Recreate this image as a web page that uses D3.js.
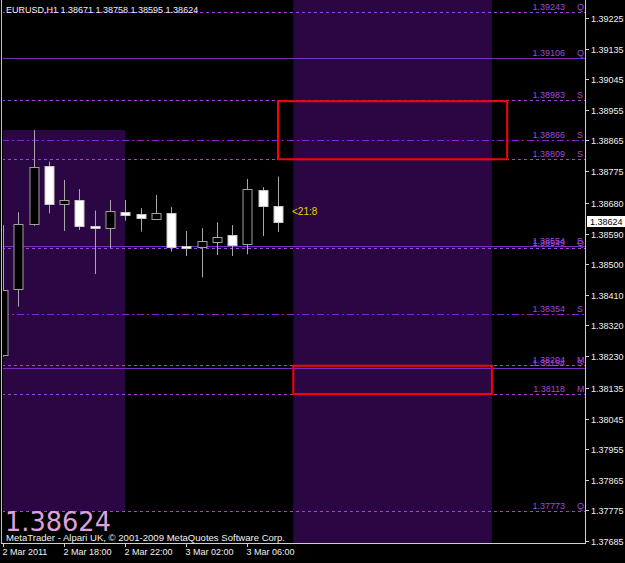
<!DOCTYPE html>
<html><head><meta charset="utf-8">
<script src="https://cdn.jsdelivr.net/npm/d3@7"></script>
<style>html,body{margin:0;padding:0;background:#000;}svg{display:block;}</style>
</head><body>
<script>
// ---- data ----
const symbolTitle = "EURUSD,H1";
const lastOHLC = [1.38671, 1.38758, 1.38595, 1.38624];
const barIndex = [0,1,2,3,4,5,6,7,8,9,10,11,12,13,14,15,16,17,18];
const opens  = [1.38233,1.38426,1.38618,1.38790,1.38678,1.38688,1.38612,1.38606,1.38655,1.38647,1.38634,1.38650,1.38554,1.38550,1.38566,1.38586,1.38559,1.38719,1.38671];
const highs  = [1.38615,1.38653,1.38895,1.38802,1.38748,1.38721,1.38658,1.38689,1.38689,1.38665,1.38704,1.38668,1.38598,1.38606,1.38623,1.38615,1.38751,1.38727,1.38758];
const lows   = [1.38228,1.38375,1.38613,1.38650,1.38598,1.38601,1.38471,1.38547,1.38628,1.38596,1.38634,1.38537,1.38524,1.38461,1.38527,1.38524,1.38529,1.38583,1.38595];
const closes = [1.38424,1.38618,1.38787,1.38678,1.38688,1.38613,1.38606,1.38658,1.38645,1.38637,1.38650,1.38552,1.38549,1.38569,1.38581,1.38557,1.38721,1.38671,1.38624];

const timeTickIdx = [0,4,8,12,16];
const timeTickLabels = ["2 Mar 2011","2 Mar 18:00","2 Mar 22:00","3 Mar 02:00","3 Mar 06:00"];
const priceTicks = [1.39225,1.39135,1.39045,1.38955,1.38865,1.38775,1.38680,1.38590,1.38500,1.38410,1.38320,1.38230,1.38135,1.38045,1.37955,1.37865,1.37775,1.37685];

const levelValues = [1.39243,1.39106,1.38983,1.38866,1.38809,1.38554,1.38549,1.38354,1.38204,1.38194,1.38118,1.37773];
const levelTags   = ["Q","Q","S","S","S","S","Q","S","M","S","M","Q"];
const levelKinds  = ["dash","solid","dash","dashdot","dash","solid","dash","dashdot","dash","solid","dash","dash"];

// zones: [startIdx, endIdx, hiPrice, loPrice] (null = full height)
const zoneStart = [-1, 19];
const zoneEnd   = [8, 32];
const zoneHi    = [1.38895, null];
const zoneLo    = [1.37773, null];
const boxStart = [18, 19];
const boxEnd   = [33, 32];
const boxHi    = [1.38983, 1.38204];
const boxLo    = [1.38809, 1.38118];

const timerText = "<21:8";
const footerText = "MetaTrader - Alpari UK, \u00a9 2001-2009 MetaQuotes Software Corp.";

// ---- drawing ----
const W = 625, H = 563;
const plotL = 2, plotR = 585, plotT = 0, plotB = 543;
const y = d3.scaleLinear().domain([1.37685, 1.39225]).range([541, 18]);
const x = d3.scaleLinear().domain([0, 18]).range([3, 278]);

const svg = d3.select("body").append("svg").attr("width", W).attr("height", H)
  .style("font-family", "'Liberation Sans', Arial, sans-serif");
svg.append("rect").attr("width", W).attr("height", H).attr("fill", "#000");

svg.append("defs").append("clipPath").attr("id", "plot")
  .append("rect").attr("x", plotL + 1).attr("y", plotT).attr("width", plotR - plotL - 1).attr("height", plotB - plotT);
const g = svg.append("g").attr("clip-path", "url(#plot)");

// zones
zoneStart.forEach((s, i) => {
  const x0 = x(s), x1 = x(zoneEnd[i]);
  const y0 = zoneHi[i] == null ? plotT : y(zoneHi[i]);
  const y1 = zoneLo[i] == null ? plotB : y(zoneLo[i]);
  g.append("rect").attr("x", x0).attr("y", y0).attr("width", x1 - x0).attr("height", y1 - y0)
    .attr("fill", "#2a0743");
});

// levels
const dashFor = {dash: "3,3", solid: null, dashdot: "7,3,2,3"};
const colFor = {dash: "#a043d6", solid: "#7d2dbd", dashdot: "#8a22cc"};
levelValues.forEach((v, i) => {
  const yy = Math.round(y(v)) + 0.5;
  g.append("line").attr("x1", plotL).attr("x2", plotR).attr("y1", yy).attr("y2", yy)
    .attr("stroke", colFor[levelKinds[i]]).attr("stroke-width", 1)
    .attr("stroke-dasharray", dashFor[levelKinds[i]]);
  g.append("text").attr("x", 565).attr("y", yy - 3).attr("text-anchor", "end")
    .attr("font-size", 9).attr("fill", "#a347d8").text(v.toFixed(5));
  g.append("text").attr("x", 577).attr("y", yy - 3)
    .attr("font-size", 9).attr("fill", "#a347d8").text(levelTags[i]);
});

// candles
const bodyW = 9;
barIndex.forEach(i => {
  const cx = Math.round(x(i)) + 0.5;
  const bull = closes[i] >= opens[i];
  g.append("line").attr("x1", cx).attr("x2", cx)
    .attr("y1", y(highs[i])).attr("y2", y(lows[i]))
    .attr("stroke", "#a8a8a8").attr("stroke-width", 1);
  const top = Math.round(y(Math.max(opens[i], closes[i]))) + 0.5;
  const bot = Math.round(y(Math.min(opens[i], closes[i]))) + 0.5;
  g.append("rect").attr("x", cx - bodyW / 2).attr("y", top)
    .attr("width", bodyW).attr("height", Math.max(1, bot - top))
    .attr("fill", bull ? "#000" : "#fff")
    .attr("stroke", bull ? "#a0a0a0" : "#c8c8c8").attr("stroke-width", 1);
});

// red boxes
boxStart.forEach((s, i) => {
  const x0 = x(s), x1 = x(boxEnd[i]);
  const y0 = y(boxHi[i]) + 1, y1 = y(boxLo[i]);
  g.append("rect").attr("x", x0).attr("y", y0).attr("width", x1 - x0).attr("height", y1 - y0)
    .attr("fill", "none").attr("stroke", "#ff0000").attr("stroke-width", 2);
});

// timer text
g.append("text").attr("x", x(18) + 14).attr("y", y(lastOHLC[3]) - 7)
  .attr("font-size", 10).attr("fill", "#e6d000").text(timerText);

// big price + header + footer
g.append("text").attr("x", 5).attr("y", 531).attr("font-family", "'DejaVu Sans', sans-serif")
  .attr("font-size", 26).attr("fill", "#dda0dd")
  .attr("textLength", 106).attr("lengthAdjust", "spacingAndGlyphs").text(lastOHLC[3].toFixed(5));
svg.append("text").attr("x", 6).attr("y", 13).attr("font-size", 9).attr("fill", "#f0f0f0")
  .text(symbolTitle + "  " + lastOHLC.map(d => d.toFixed(5)).join(" "));
svg.append("text").attr("x", 6).attr("y", 541).attr("font-size", 9).attr("fill", "#f0f0f0")
  .attr("textLength", 279).attr("lengthAdjust", "spacingAndGlyphs").text(footerText);

// axes frame
svg.append("line").attr("x1", 1.5).attr("x2", 1.5).attr("y1", 0).attr("y2", plotB).attr("stroke", "#c0c0c0");
svg.append("line").attr("x1", plotR + 0.5).attr("x2", plotR + 0.5).attr("y1", 0).attr("y2", plotB + 0.5).attr("stroke", "#d0d0d0");
svg.append("line").attr("x1", 1).attr("x2", plotR + 1).attr("y1", plotB + 0.5).attr("y2", plotB + 0.5).attr("stroke", "#d0d0d0");

// right price axis
const ya = svg.append("g");
priceTicks.forEach(v => {
  const yy = Math.round(y(v)) + 0.5;
  ya.append("line").attr("x1", plotR + 1).attr("x2", plotR + 4).attr("y1", yy).attr("y2", yy).attr("stroke", "#d0d0d0");
  ya.append("text").attr("x", 591).attr("y", yy + 3).attr("font-size", 9).attr("fill", "#f0f0f0").text(v.toFixed(5));
});
// current price box
const cy = Math.round(y(lastOHLC[3]));
ya.append("rect").attr("x", 587).attr("y", cy - 6).attr("width", 38).attr("height", 11).attr("fill", "#fff");
ya.append("text").attr("x", 590).attr("y", cy + 3).attr("font-size", 9).attr("fill", "#000").text(lastOHLC[3].toFixed(5));

// bottom time axis
timeTickIdx.forEach((idx, i) => {
  const xx = Math.round(x(idx)) + 0.5;
  svg.append("line").attr("x1", xx).attr("x2", xx).attr("y1", plotB).attr("y2", plotB + 4).attr("stroke", "#d0d0d0");
  svg.append("text").attr("x", Math.max(1, xx - 1)).attr("y", 555).attr("font-size", 9).attr("fill", "#f0f0f0").text(timeTickLabels[i]);
});
</script>
</body></html>
